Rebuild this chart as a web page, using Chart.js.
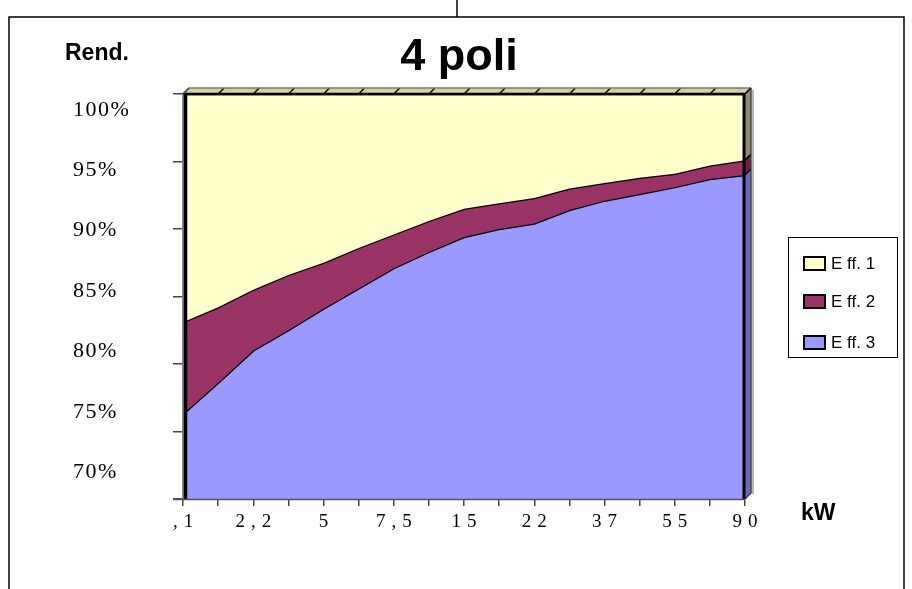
<!DOCTYPE html>
<html><head><meta charset="utf-8">
<script src="https://cdn.jsdelivr.net/npm/chart.js@4/dist/chart.umd.min.js"></script>
<style>html,body{margin:0;padding:0;background:#fff}#wrap{width:912px;height:589px;overflow:hidden}</style>
</head><body><div id="wrap"><canvas id="c" width="912" height="589"></canvas></div>
<script>
// ---- data ----
const categories = [",1","1,5","2,2","3","5","5,5","7,5","11","15","18,5","22","30","37","45","55","75","90"];
const eff1 = [100,100,100,100,100,100,100,100,100,100,100,100,100,100,100,100,100];
const eff2 = [83.1,84.2,85.5,86.6,87.5,88.6,89.6,90.6,91.5,91.9,92.3,93.0,93.4,93.8,94.1,94.7,95.1];
const eff3 = [76.3,78.6,81.0,82.5,84.1,85.6,87.1,88.3,89.4,90.0,90.4,91.4,92.1,92.6,93.1,93.7,94.0];
const yTicks = [100,95,90,85,80,75,70];
const seriesNames = ["E ff. 1","E ff. 2","E ff. 3"];
const titleText = "4 poli";
const yTitle = "Rend.";
const xTitle = "kW";

const colors = ['#ffffcc','#993366','#9999ff'];
const sideColors = ['#8e8b6e','#6a2246','#6a6ab4'];

const deco = {
  id: 'deco',
  beforeDraw(chart){
    const ctx = chart.ctx; ctx.save(); ctx.fillStyle='#fff'; ctx.fillRect(0,0,chart.width,chart.height); ctx.restore();
  },
  afterDatasetsDraw(chart){
    const ctx = chart.ctx;
    const {left:L,right:R,top:T,bottom:B} = chart.chartArea;
    const xs = chart.scales.x, ys = chart.scales.y;
    const d = 6;
    ctx.save();
    // top strip
    ctx.beginPath(); ctx.moveTo(L,T); ctx.lineTo(L+d,T-d); ctx.lineTo(R+d,T-d); ctx.lineTo(R,T); ctx.closePath();
    ctx.fillStyle='#d6cfa4'; ctx.fill();
    ctx.strokeStyle='#000'; ctx.lineWidth=1.5;
    for(let i=0;i<categories.length;i++){
      const px = xs.getPixelForValue(i);
      ctx.beginPath(); ctx.moveTo(px,T); ctx.lineTo(px+d,T-d); ctx.stroke();
    }
    ctx.strokeStyle='#7a7a7a'; ctx.lineWidth=1.5;
    ctx.beginPath(); ctx.moveTo(L+d,T-d); ctx.lineTo(R+d,T-d); ctx.stroke();
    ctx.strokeStyle='#000'; ctx.lineWidth=2.5;
    ctx.beginPath(); ctx.moveTo(L,T); ctx.lineTo(R,T); ctx.stroke();
    // right side faces
    const ds = chart.data.datasets;
    const last = ds.map(s=>s.data[s.data.length-1]);
    const bounds = [last[0], last[1], last[2], ys.min];
    for(let i=0;i<3;i++){
      const y1 = ys.getPixelForValue(bounds[i]), y2 = ys.getPixelForValue(bounds[i+1]);
      ctx.beginPath(); ctx.moveTo(R,y1); ctx.lineTo(R+d,y1-d); ctx.lineTo(R+d,y2-d); ctx.lineTo(R,y2); ctx.closePath();
      ctx.fillStyle = sideColors[i]; ctx.fill();
      ctx.strokeStyle='#000'; ctx.lineWidth=1.5;
      ctx.beginPath(); ctx.moveTo(R,y1); ctx.lineTo(R+d,y1-d); ctx.stroke();
    }
    ctx.strokeStyle='#444'; ctx.lineWidth=1.5;
    ctx.beginPath(); ctx.moveTo(R+d,T-d); ctx.lineTo(R+d,B-d); ctx.lineTo(R,B); ctx.stroke();
    ctx.strokeStyle='#b8b8b8'; ctx.lineWidth=2;
    ctx.beginPath(); ctx.moveTo(R+d+2,T-d+2); ctx.lineTo(R+d+2,B-d+1); ctx.stroke();
    ctx.strokeStyle='#000'; ctx.lineWidth=3;
    ctx.beginPath(); ctx.moveTo(R-1,T); ctx.lineTo(R-1,B); ctx.stroke();
    // left wall
    ctx.strokeStyle='#8a8a8a'; ctx.lineWidth=2;
    ctx.beginPath(); ctx.moveTo(L,T+1); ctx.lineTo(L,B); ctx.stroke();
    ctx.strokeStyle='#000'; ctx.lineWidth=3.5;
    ctx.beginPath(); ctx.moveTo(L+2.5,T); ctx.lineTo(L+2.5,B); ctx.stroke();
    ctx.strokeStyle='#555'; ctx.lineWidth=1.5;
    ctx.beginPath(); ctx.moveTo(L,T); ctx.lineTo(L+d,T-d); ctx.stroke();
    // bottom axis line
    ctx.strokeStyle='#555'; ctx.lineWidth=1.5;
    ctx.beginPath(); ctx.moveTo(L-10,B+0.5); ctx.lineTo(R,B+0.5); ctx.stroke();
    ctx.restore();
  },
  afterDraw(chart){
    const ctx = chart.ctx;
    const {left:L,right:R,top:T,bottom:B} = chart.chartArea;
    const xs = chart.scales.x, ys = chart.scales.y;
    ctx.save();
    // outer frame
    ctx.strokeStyle='#000'; ctx.lineWidth=1.5;
    ctx.beginPath(); ctx.moveTo(9,589); ctx.lineTo(9,17); ctx.lineTo(904,17); ctx.lineTo(904,589); ctx.stroke();
    ctx.beginPath(); ctx.moveTo(457,0); ctx.lineTo(457,17); ctx.stroke();
    // titles
    ctx.fillStyle='#000'; ctx.textBaseline='alphabetic';
    ctx.font='bold 45px "Liberation Sans", Arial, sans-serif'; ctx.textAlign='center';
    ctx.fillText(titleText, 459, 70);
    ctx.font='bold 23px "Liberation Sans", Arial, sans-serif'; ctx.textAlign='left';
    ctx.fillText(yTitle, 65, 60);
    ctx.fillText(xTitle, 801, 520);
    // y labels
    ctx.font='22px "Liberation Serif", "Times New Roman", serif';
    ctx.letterSpacing='1.5px'; ctx.textAlign='left'; ctx.textBaseline='middle';
    yTicks.forEach(v=>{
      const py = ys.getPixelForValue(v);
      const ly = T + 16 + (py - T) * 0.894;
      ctx.fillText(v + '%', 73, ly);
    });
    // x labels
    ctx.font='19px "Liberation Serif", "Times New Roman", serif';
    const ls = 6; ctx.letterSpacing = ls + 'px'; ctx.textAlign='center';
    categories.forEach((c,i)=>{
      if(i%2!==0) return;
      const px = xs.getPixelForValue(i);
      ctx.fillText(c, px + ls/2, 522);
    });
    ctx.letterSpacing='0px';
    // legend
    ctx.strokeStyle='#000'; ctx.lineWidth=1;
    ctx.strokeRect(788.5,237.5,109,120);
    const ly = [263,301,342];
    ctx.font='17px "Liberation Sans", Arial, sans-serif'; ctx.textAlign='left'; ctx.textBaseline='middle';
    chart.data.datasets.forEach((s,i)=>{
      ctx.fillStyle = s.backgroundColor;
      ctx.fillRect(804, ly[i]-6, 21, 13);
      ctx.lineWidth=2; ctx.strokeStyle='#000';
      ctx.strokeRect(804, ly[i]-6, 21, 13);
      ctx.fillStyle='#000';
      ctx.fillText(s.label, 831, ly[i]+1);
    });
    ctx.restore();
  }
};

new Chart(document.getElementById('c'), {
  type: 'line',
  data: {
    labels: categories,
    datasets: [
      {label: seriesNames[0], data: eff1, borderColor:'#000', borderWidth:2.5, backgroundColor:colors[0], fill:'+1', pointRadius:0, tension:0},
      {label: seriesNames[1], data: eff2, borderColor:'#000', borderWidth:2.5, backgroundColor:colors[1], fill:'+1', pointRadius:0, tension:0},
      {label: seriesNames[2], data: eff3, borderColor:'#000', borderWidth:2.5, backgroundColor:colors[2], fill:'start', pointRadius:0, tension:0}
    ]
  },
  options: {
    responsive:false, animation:false, devicePixelRatio:1,
    layout:{padding:{left:173, top:94, right:167, bottom:83}},
    plugins:{legend:{display:false}, title:{display:false}, tooltip:{enabled:false}},
    scales:{
      x:{type:'category', offset:false,
         ticks:{display:false},
         grid:{drawOnChartArea:false, drawTicks:true, tickLength:7, color:'#444', lineWidth:1.5},
         border:{display:false},
         afterFit(s){ s.height = 7; }},
      y:{type:'linear', min:70, max:100,
         ticks:{display:false, stepSize:5},
         grid:{drawOnChartArea:false, drawTicks:true, tickLength:10, color:'#444', lineWidth:1.5},
         border:{display:false},
         afterFit(s){ s.width = 10; }}
    }
  },
  plugins:[deco]
});
</script></body></html>
